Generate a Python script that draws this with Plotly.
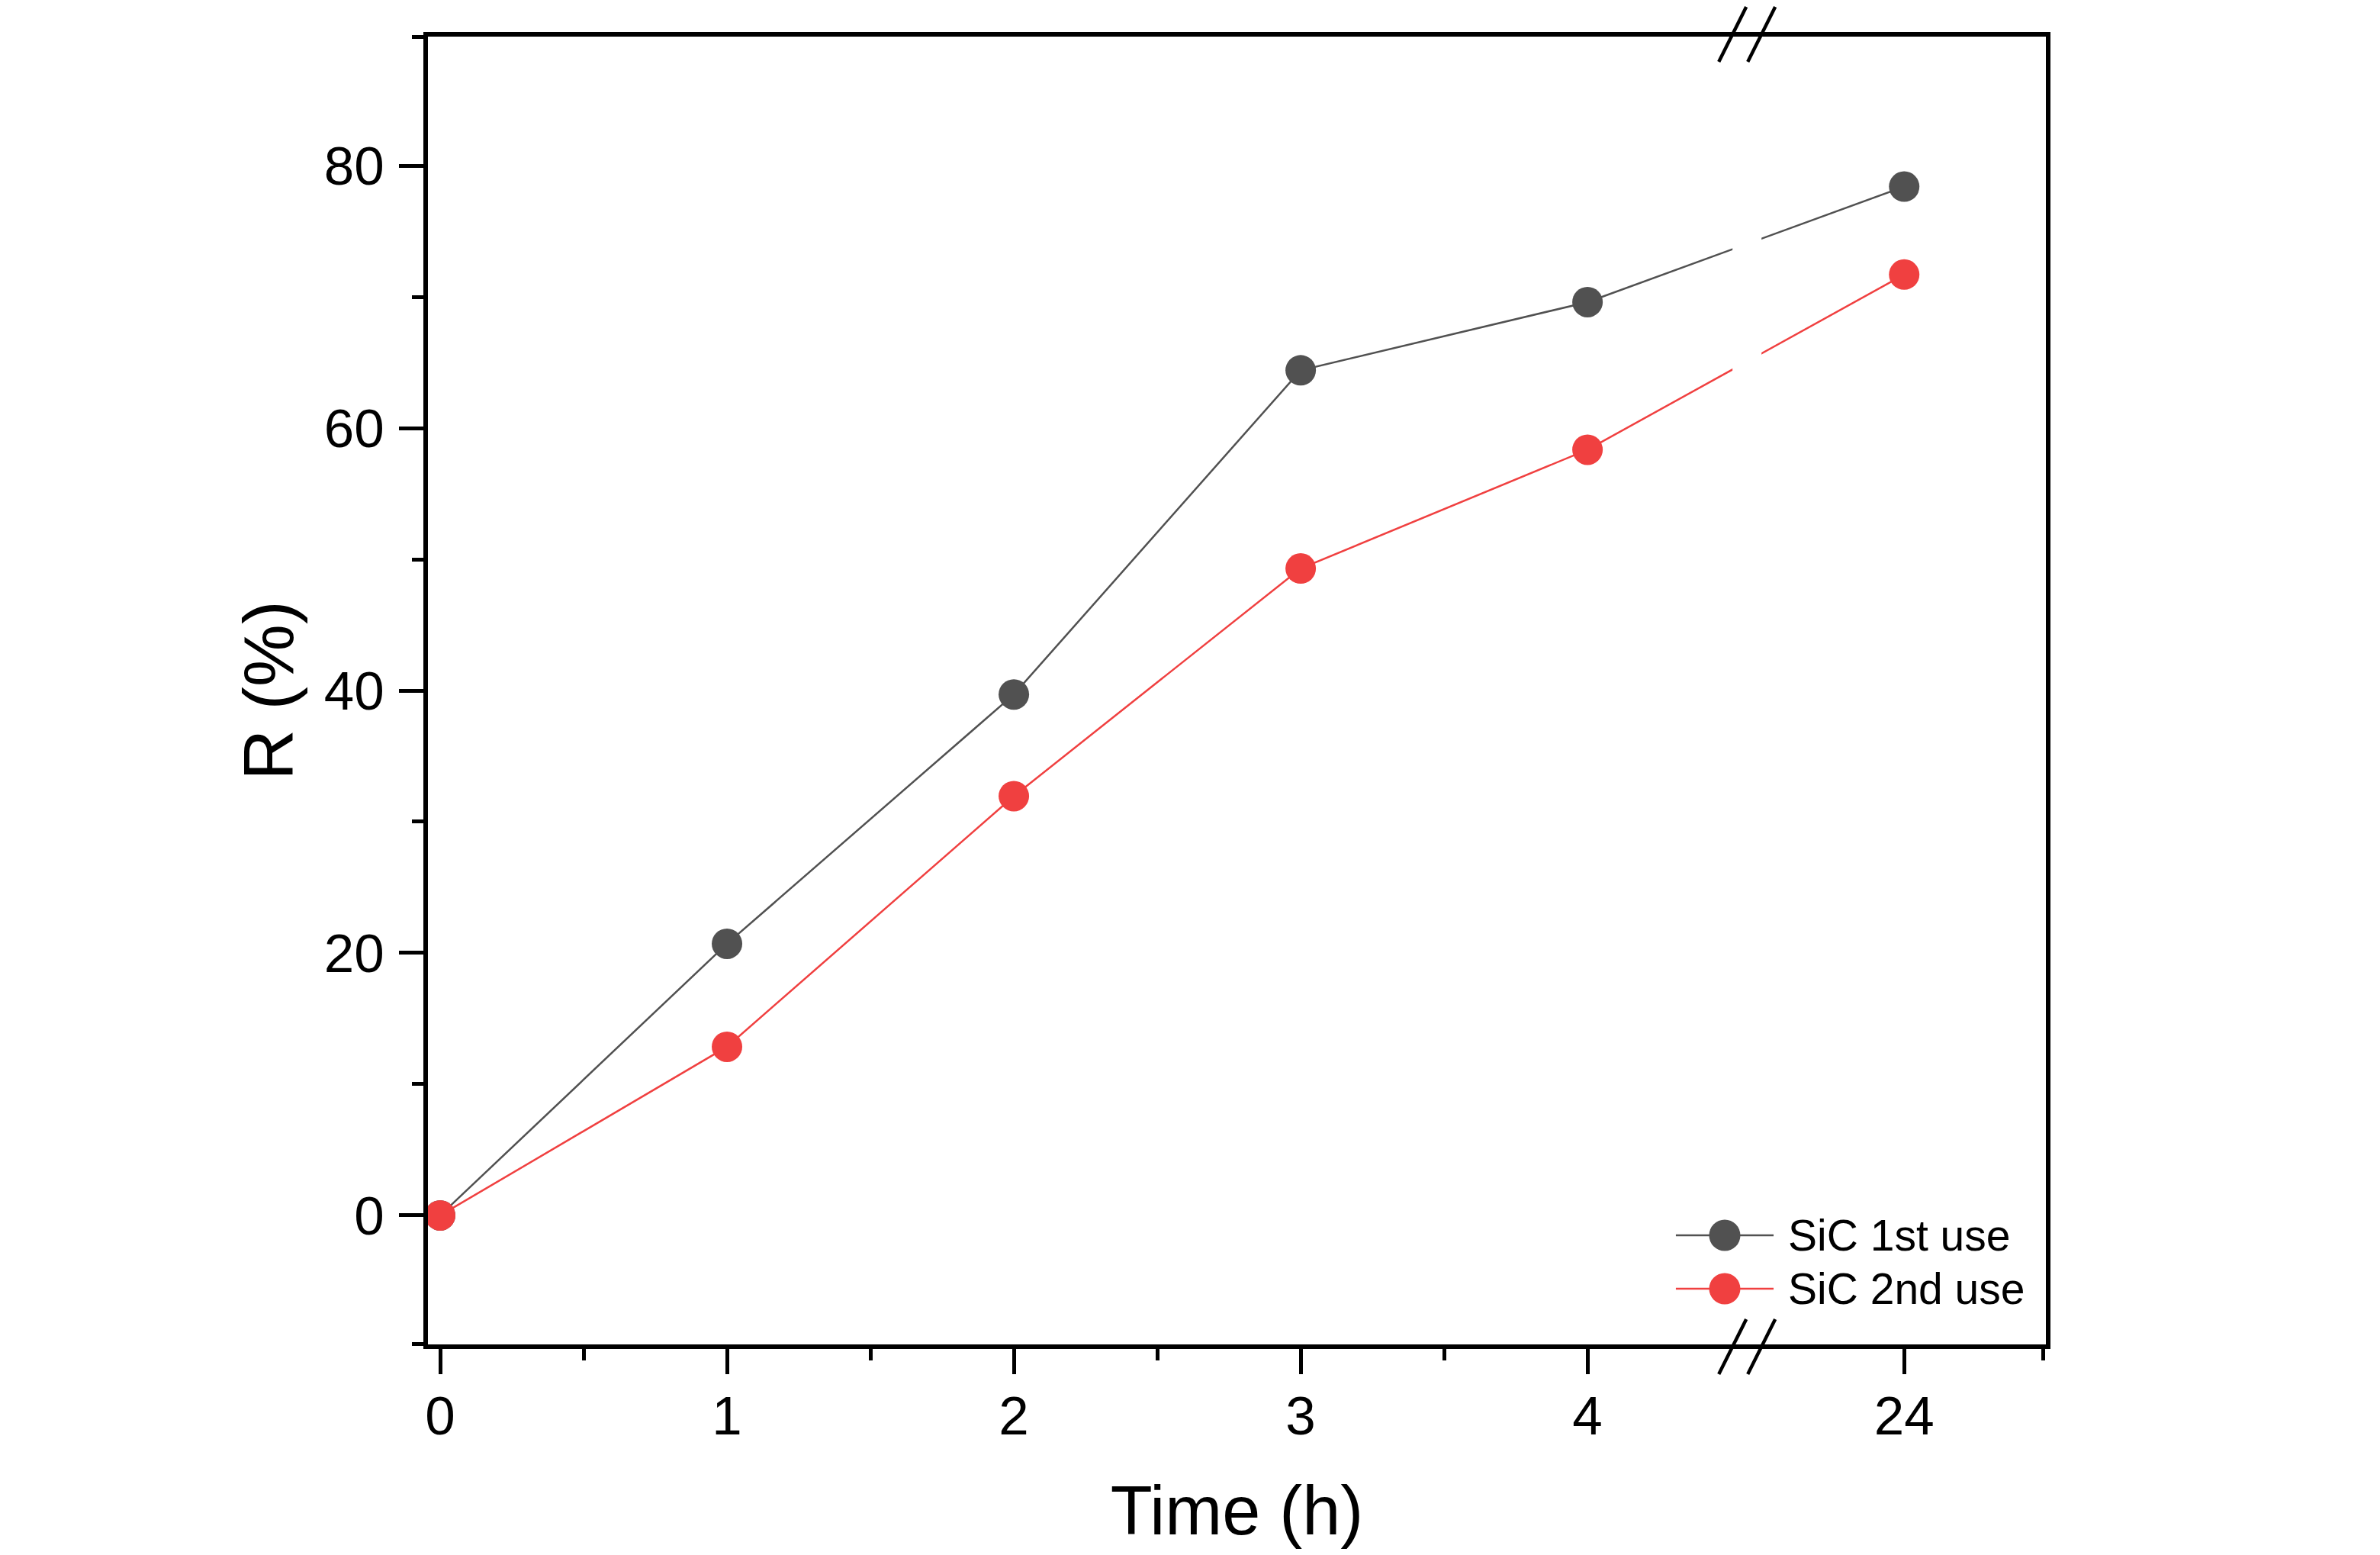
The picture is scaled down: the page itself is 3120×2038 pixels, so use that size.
import plotly.graph_objects as go

# ---- data ----
time_h = [0, 1, 2, 3, 4, 24]
time_labels = ["0", "1", "2", "3", "4", "24"]
r_first = [0.0, 20.7, 39.7, 64.4, 69.6, 78.4]
r_second = [0.0, 12.85, 31.95, 49.3, 58.35, 71.7]
series_names = ["SiC 1st use", "SiC 2nd use"]
series_colors = ["#515151", "#F04040"]
y_ticks = [0, 20, 40, 60, 80]

# ---- broken x axis (gap between 4 h and 24 h) ----
BREAK_POS = 4.556          # axis position of the break
SKIP = 24 - 5.104          # hours removed by the break


def to_axis(t):
    return t if t <= BREAK_POS else t - SKIP


x_pos = [to_axis(t) for t in time_h]

FONT = "Liberation Sans, Arial, sans-serif"

fig = go.Figure()
for name, vals, col in zip(series_names, [r_first, r_second], series_colors):
    fig.add_trace(go.Scatter(
        x=x_pos, y=vals, name=name, mode="lines+markers",
        line=dict(color=col, width=2.5),
        marker=dict(color=col, size=40, line=dict(width=0)),
        showlegend=False,
    ))

shapes = []
# white gap in the data lines at the break
shapes.append(dict(type="rect", xref="x", xsizemode="pixel", xanchor=BREAK_POS,
                   x0=-19, x1=19, yref="paper", y0=0.012, y1=0.988,
                   fillcolor="white", line=dict(width=0), layer="above"))
# break slashes on top and bottom axes
for yanc, (ya, yb) in [(0, (-39, 33)), (1, (-33, 39))]:
    for off in [-19, 19]:
        shapes.append(dict(type="line", xref="x", xsizemode="pixel", xanchor=BREAK_POS,
                           x0=off - 18, x1=off + 18,
                           yref="paper", ysizemode="pixel", yanchor=yanc,
                           y0=ya, y1=yb,
                           line=dict(color="black", width=4.5), layer="above"))

# manual legend (bottom right)
annotations = []
leg_rows = [0.0834, 0.0426]
for name, col, yy in zip(series_names, series_colors, leg_rows):
    shapes.append(dict(type="line", xref="paper", yref="paper",
                       x0=0.7713, x1=0.8317, y0=yy, y1=yy,
                       line=dict(color=col, width=2.5), layer="above"))
    shapes.append(dict(type="circle", xref="paper", yref="paper",
                       xsizemode="pixel", ysizemode="pixel",
                       xanchor=0.8015, yanchor=yy,
                       x0=-20.5, x1=20.5, y0=-20.5, y1=20.5,
                       fillcolor=col, line=dict(width=0), layer="above"))
    annotations.append(dict(xref="paper", yref="paper", x=0.8397, y=yy,
                            text=name, showarrow=False, xanchor="left", yanchor="middle",
                            font=dict(family=FONT, size=57, color="black")))

fig.update_layout(
    width=3104, height=2022,
    margin=dict(l=553, r=430, t=40, b=268),
    paper_bgcolor="white", plot_bgcolor="white",
    font=dict(family=FONT, color="black"),
    shapes=shapes, annotations=annotations,
    showlegend=False,
)

fig.update_xaxes(
    range=[-0.0426, 5.598],
    tickmode="array", tickvals=[to_axis(t) for t in time_h], ticktext=time_labels,
    ticks="outside", ticklen=33, tickwidth=5, tickcolor="black",
    tickfont=dict(family=FONT, size=71, color="black"),
    ticklabelstandoff=-6,
    showline=True, linecolor="black", linewidth=6, mirror=True,
    showgrid=False, zeroline=False,
    minor=dict(tickvals=[0.5, 1.5, 2.5, 3.5, 5.59], ticks="outside", ticklen=15,
               tickwidth=5, tickcolor="black", showgrid=False),
    title=dict(text="Time (h)", font=dict(family=FONT, size=90, color="black"), standoff=60),
)
fig.update_yaxes(
    range=[-9.83, 89.83],
    tickmode="array", tickvals=y_ticks,
    ticks="outside", ticklen=32, tickwidth=5, tickcolor="black",
    tickfont=dict(family=FONT, size=71, color="black"),
    ticklabelstandoff=5,
    showline=True, linecolor="black", linewidth=6, mirror=True,
    showgrid=False, zeroline=False,
    minor=dict(tickvals=[-9.8, 10, 30, 50, 70, 89.8], ticks="outside", ticklen=15,
               tickwidth=5, tickcolor="black", showgrid=False),
    title=dict(text="R (%)", font=dict(family=FONT, size=92, color="black"), standoff=12),
)

fig.write_html("out.html")
